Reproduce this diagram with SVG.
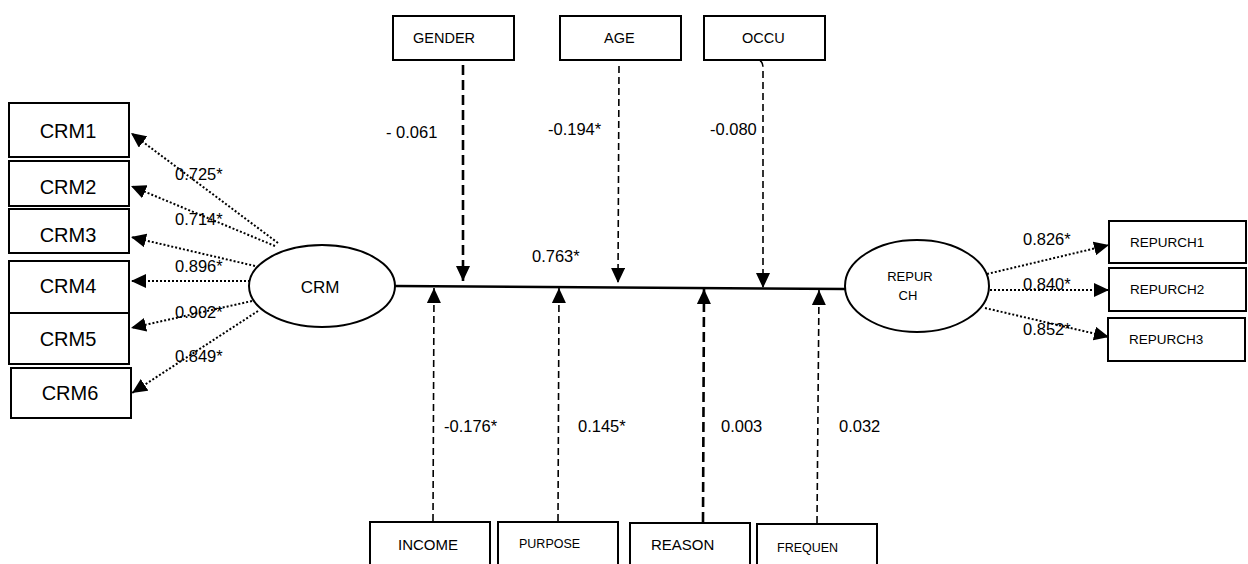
<svg xmlns="http://www.w3.org/2000/svg" width="1248" height="564" viewBox="0 0 1248 564">
<style>
  .box{fill:#fff;stroke:#000;stroke-width:2}
  .ell{fill:#fff;stroke:#000;stroke-width:2}
  text{font-family:"Liberation Sans",Arial,sans-serif;fill:#000}
  .big{font-size:20px;text-anchor:middle}
  .mid{font-size:14.5px}
  .sm{font-size:12.5px}
  .lbl{font-size:16.5px}
  .dot{fill:none;stroke:#000;stroke-width:2;stroke-dasharray:2 2}
  .dashB{fill:none;stroke:#000;stroke-width:2.6;stroke-dasharray:10 5}
  .dashT{fill:none;stroke:#000;stroke-width:1.6;stroke-dasharray:7 4}
  .solid{fill:none;stroke:#000;stroke-width:2.5}
</style>
<defs>
  <marker id="ah" markerUnits="userSpaceOnUse" markerWidth="16" markerHeight="14" refX="15" refY="7" orient="auto">
    <path d="M0,0 L15,7 L0,14 z" fill="#000"/>
  </marker>
</defs>
<rect width="1248" height="564" fill="#fff"/>

<g id="connectors">
  <line class="dot" x1="278" y1="243" x2="131" y2="133" marker-end="url(#ah)"/>
  <line class="dot" x1="275" y1="246" x2="131" y2="186" marker-end="url(#ah)"/>
  <line class="dot" x1="255" y1="266" x2="131" y2="237" marker-end="url(#ah)"/>
  <line class="dot" x1="250" y1="281" x2="131" y2="281" marker-end="url(#ah)"/>
  <line class="dot" x1="252" y1="301" x2="131" y2="328" marker-end="url(#ah)"/>
  <line class="dot" x1="258" y1="311" x2="132" y2="393" marker-end="url(#ah)"/>

  <line class="dot" x1="987" y1="274" x2="1109" y2="245" marker-end="url(#ah)"/>
  <line class="dot" x1="990" y1="290" x2="1109" y2="290" marker-end="url(#ah)"/>
  <line class="dot" x1="985" y1="308" x2="1109" y2="337" marker-end="url(#ah)"/>

  <line class="solid" x1="395" y1="286" x2="846" y2="289"/>

  <line class="dashB" x1="463" y1="65" x2="463" y2="281" marker-end="url(#ah)"/>
  <line class="dashT" x1="619" y1="66" x2="618" y2="283" marker-end="url(#ah)"/>
  <path class="dashT" d="M760,61 Q763,62 763,68 L763,288" marker-end="url(#ah)"/>

  <line class="dashT" x1="433" y1="521" x2="434" y2="288" marker-end="url(#ah)"/>
  <line class="dashT" x1="558" y1="521" x2="559" y2="288" marker-end="url(#ah)"/>
  <line class="dashB" x1="703" y1="522" x2="704" y2="289" marker-end="url(#ah)"/>
  <line class="dashT" x1="817" y1="523" x2="819" y2="290" marker-end="url(#ah)"/>
</g>

<g id="CRM1"><rect class="box" x="9" y="103" width="120" height="54"/><text class="big" x="68" y="138">CRM1</text></g>
<g id="CRM2"><rect class="box" x="9" y="161" width="120" height="45"/><text class="big" x="68" y="194">CRM2</text></g>
<g id="CRM3"><rect class="box" x="9" y="209" width="120" height="44"/><text class="big" x="68" y="242">CRM3</text></g>
<g id="CRM4"><rect class="box" x="9" y="261" width="120" height="52"/><text class="big" x="68" y="293">CRM4</text></g>
<g id="CRM5"><rect class="box" x="9" y="313" width="120" height="51"/><text class="big" x="68" y="346">CRM5</text></g>
<g id="CRM6"><rect class="box" x="11" y="368" width="120" height="50"/><text class="big" x="70" y="400">CRM6</text></g>

<g id="CRM"><ellipse class="ell" cx="322" cy="286" rx="73" ry="41"/><text x="320" y="293" style="font-size:17px;text-anchor:middle">CRM</text></g>
<g id="REPURCH"><ellipse class="ell" cx="917" cy="286" rx="72" ry="46"/>
  <text x="910" y="281" style="font-size:13px;text-anchor:middle">REPUR</text>
  <text x="908" y="300" style="font-size:13px;text-anchor:middle">CH</text></g>

<g id="REPURCH1"><rect class="box" x="1109" y="221" width="137" height="42"/><text x="1130" y="247" style="font-size:13.5px">REPURCH1</text></g>
<g id="REPURCH2"><rect class="box" x="1109" y="268" width="137" height="43"/><text x="1130" y="294" style="font-size:13.5px">REPURCH2</text></g>
<g id="REPURCH3"><rect class="box" x="1108" y="318" width="137" height="43"/><text x="1129" y="344" style="font-size:13.5px">REPURCH3</text></g>

<g id="GENDER"><rect class="box" x="393" y="16" width="121" height="44"/><text class="mid" x="413" y="43">GENDER</text></g>
<g id="AGE"><rect class="box" x="560" y="16" width="121" height="44"/><text class="mid" x="604" y="43">AGE</text></g>
<g id="OCCU"><rect class="box" x="704" y="16" width="121" height="44"/><text class="mid" x="742" y="43">OCCU</text></g>

<g id="INCOME"><rect class="box" x="370" y="522" width="120" height="50"/><text x="398" y="550" style="font-size:15px">INCOME</text></g>
<g id="PURPOSE"><rect class="box" x="498" y="522" width="120" height="50"/><text class="sm" x="519" y="548">PURPOSE</text></g>
<g id="REASON"><rect class="box" x="630" y="523" width="120" height="50"/><text x="651" y="550" style="font-size:15px">REASON</text></g>
<g id="FREQUEN"><rect class="box" x="757" y="524" width="120" height="50"/><text class="sm" x="777" y="552">FREQUEN</text></g>

<g id="labels">
  <text class="lbl" x="175" y="180">0.725*</text>
  <text class="lbl" x="175" y="225">0.714*</text>
  <text class="lbl" x="175" y="272">0.896*</text>
  <text class="lbl" x="175" y="318">0.902*</text>
  <text class="lbl" x="175" y="362">0.849*</text>
  <text class="lbl" x="1023" y="245">0.826*</text>
  <text class="lbl" x="1023" y="290">0.840*</text>
  <text class="lbl" x="1023" y="335">0.852*</text>
  <text class="lbl" x="386" y="138">- 0.061</text>
  <text class="lbl" x="548" y="135">-0.194*</text>
  <text class="lbl" x="710" y="135">-0.080</text>
  <text class="lbl" x="532" y="262">0.763*</text>
  <text class="lbl" x="444" y="432">-0.176*</text>
  <text class="lbl" x="578" y="432">0.145*</text>
  <text class="lbl" x="721" y="432">0.003</text>
  <text class="lbl" x="839" y="432">0.032</text>
</g>
</svg>
